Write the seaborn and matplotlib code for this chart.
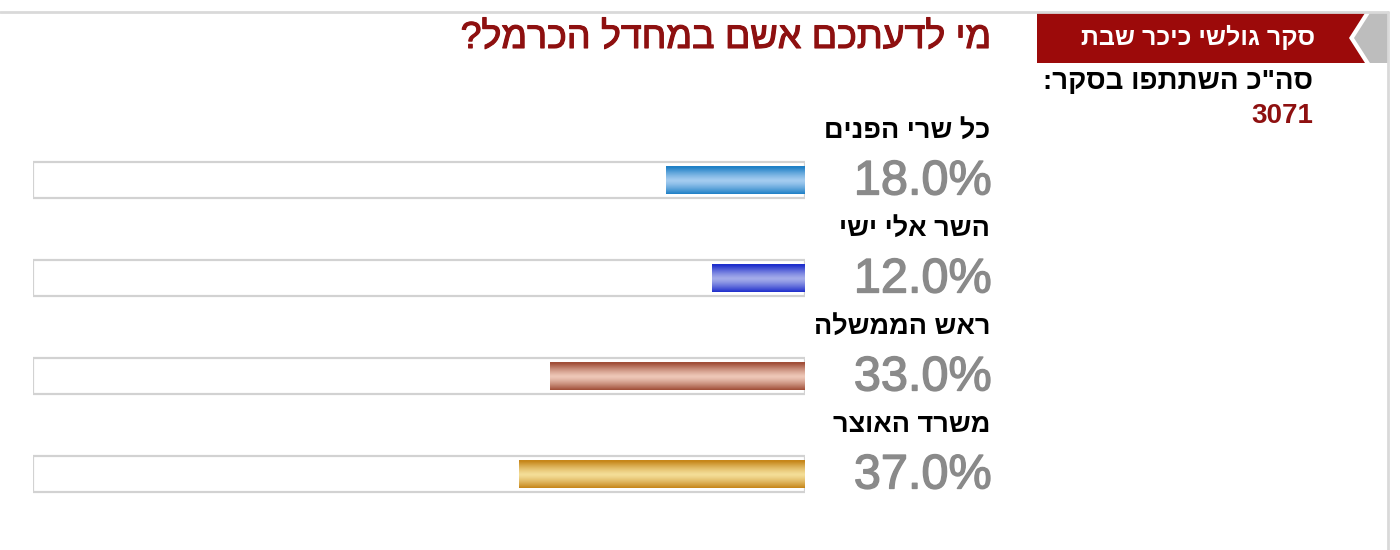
import numpy as np
import matplotlib
matplotlib.use("Agg")
import matplotlib.pyplot as plt
import matplotlib.transforms as mtransforms
import matplotlib.patheffects as pe
from matplotlib.patches import Polygon
from matplotlib.lines import Line2D
import seaborn as sns

# ---- data ----
categories = ["כל שרי הפנים", "השר אלי ישי", "ראש הממשלה", "משרד האוצר"]
percents = [18.0, 12.0, 33.0, 37.0]
title_text = "מי לדעתכם אשם במחדל הכרמל?"
panel_header = "סקר גולשי כיכר שבת"
participants_label = "סה\"כ השתתפו בסקר:"
participants = 3071

# ---- styles ----
dark_cols = ["#1f80c6", "#1f2fcc", "#a04e38", "#c6861a"]
light_cols = ["#a4ccf0", "#a4acea", "#eec8b8", "#f4de98"]
FONT = ["Liberation Sans", "DejaVu Sans"]
RED = "#8e1010"

def vis(s):
    # visual (right-to-left) ordering for Hebrew text
    return s[::-1]

sns.set_theme(style="white")
plt.rcParams["font.family"] = FONT

W, H = 1400, 550
fig = plt.figure(figsize=(W / 100, H / 100), dpi=100)
fig.patch.set_facecolor("white")

def fx(x):
    return x / W

def fy(y):
    return 1 - y / H

# axes for bars: track spans x 33..805 px, rows centered at 180 + 98*i
x0, x1 = 33, 805
row0, step = 180, 98
n = len(categories)
top_px = row0 - step / 2
bot_px = row0 + step * (n - 1) + step / 2
ax = fig.add_axes([fx(x0), fy(bot_px), fx(x1) - fx(x0), (bot_px - top_px) / H])

track_vals = [100] * n
sns.barplot(x=track_vals, y=categories, orient="h", ax=ax, color="white",
            edgecolor="#d2d2d2", linewidth=1.6, width=36 / step)
n_track = len(ax.patches)
sns.barplot(x=percents, y=categories, orient="h", ax=ax, hue=categories,
            palette=dark_cols, legend=False, width=28 / step, linewidth=0)
ax.set_xlim(100, 0)
ax.set_ylim(n - 0.5, -0.5)
ax.axis("off")

# gradient overlay clipped to each value bar (dark edges, light centre)
fill_patches = ax.patches[n_track:]
for i, p in enumerate(fill_patches):
    bb = p.get_bbox()
    t = np.linspace(0, 1, 64)
    w = np.clip(np.abs(t - 0.52) / 0.48, 0, 1) ** 1.3
    d = np.array(matplotlib.colors.to_rgb(dark_cols[i]))
    l = np.array(matplotlib.colors.to_rgb(light_cols[i]))
    grad = (l[None, :] * (1 - w[:, None]) + d[None, :] * w[:, None])[:, None, :]
    im = ax.imshow(grad, extent=[bb.x0, bb.x1, bb.y1, bb.y0], aspect="auto",
                   interpolation="bilinear", zorder=p.get_zorder() + 0.1)
    im.set_clip_path(p)
ax.set_xlim(100, 0)
ax.set_ylim(n - 0.5, -0.5)

# labels and percentages, right aligned at x=990 px
tr = mtransforms.blended_transform_factory(fig.transFigure, ax.transData)
thick_gray = [pe.withStroke(linewidth=1.0, foreground="#8a8a8a")]
for i, (c, v) in enumerate(zip(categories, percents)):
    ax.text(fx(990), i - 0.5, vis(c), transform=tr, ha="right", va="center",
            fontsize=19.5, fontweight="bold", color="black", family=FONT, clip_on=False)
    ax.text(fx(992), i + 0.02, f"{v:.1f}%", transform=tr, ha="right", va="center",
            fontsize=35, color="#8a8a8a", family=FONT, clip_on=False,
            path_effects=thick_gray)

# title
fig.text(fx(990), fy(38), vis(title_text), ha="right", va="center",
         fontsize=27, color=RED, family=FONT,
         path_effects=[pe.withStroke(linewidth=0.8, foreground=RED)])

# frame lines
fig.add_artist(Line2D([0, fx(1388)], [fy(12), fy(12)], color="#d9d9d9", lw=2))
fig.add_artist(Line2D([fx(1388), fx(1388)], [fy(12), 0], color="#d9d9d9", lw=2))

# side panel header with chevron
red_poly = [(1037, 13), (1365, 13), (1349, 38), (1365, 63), (1037, 63)]
gray_poly = [(1370, 13), (1388, 13), (1388, 63), (1370, 63), (1354, 38)]
fig.add_artist(Polygon([(fx(a), fy(b)) for a, b in red_poly], closed=True,
                       facecolor="#9c0a0a", edgecolor="none", transform=fig.transFigure))
fig.add_artist(Polygon([(fx(a), fy(b)) for a, b in gray_poly], closed=True,
                       facecolor="#bdbdbd", edgecolor="none", transform=fig.transFigure))
fig.text(fx(1315), fy(37), vis(panel_header), ha="right", va="center",
         fontsize=18, fontweight="bold", color="white", family=FONT)
fig.text(fx(1313), fy(82), vis(participants_label), ha="right", va="center",
         fontsize=20, fontweight="bold", color="black", family=FONT)
fig.text(fx(1313), fy(116), str(participants), ha="right", va="center",
         fontsize=20, fontweight="bold", color=RED, family=FONT)

fig.savefig("out.png", dpi=100, facecolor="white")
